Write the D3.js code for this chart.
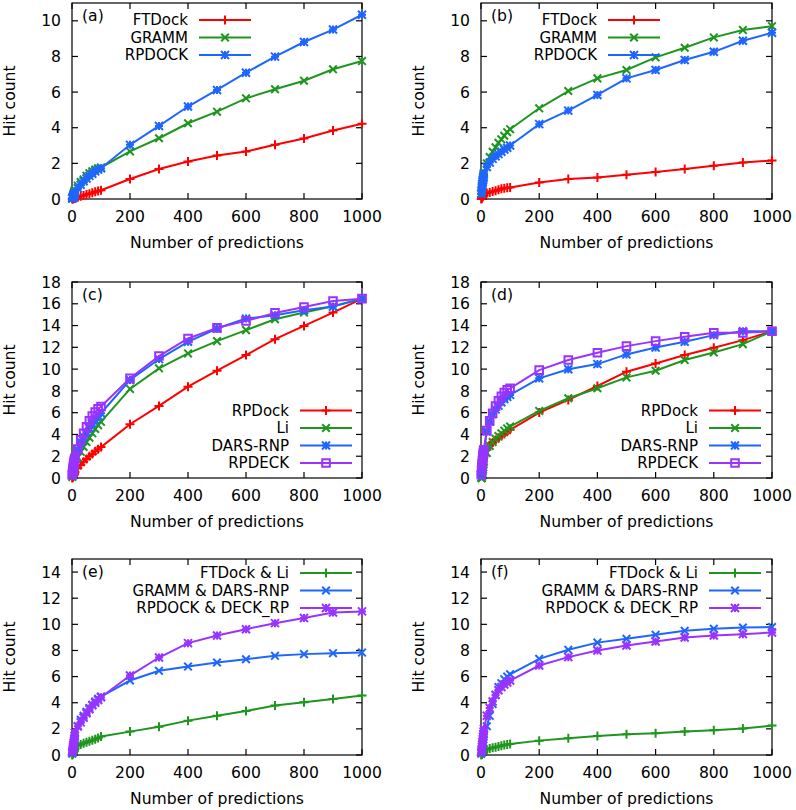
<!DOCTYPE html>
<html><head><meta charset="utf-8">
<script src="https://cdn.jsdelivr.net/npm/d3@7"></script>
<style>body{margin:0;background:#fff}svg{display:block}text{font-family:"DejaVu Sans",sans-serif;fill:#000}</style>
</head><body>
<script>
// ---- data ----
const xValues = [1,2,3,4,5,6,7,8,9,10, 20,30,40,50,60,70,80,90,100, 200,300,400,500,600,700,800,900,1000];
const xTicks = [0,200,400,600,800,1000];

const aFTDock = [0,0.01,0.02,0.02,0.03,0.03,0.04,0.04,0.05,0.05, 0.1,0.15,0.2,0.25,0.3,0.35,0.4,0.45,0.49, 1.12,1.68,2.1,2.44,2.67,3.04,3.4,3.84,4.22];
const aGRAMM  = [0.05,0.1,0.15,0.2,0.25,0.3,0.35,0.4,0.45,0.5, 0.75,0.95,1.1,1.3,1.45,1.55,1.65,1.72,1.77, 2.67,3.41,4.25,4.9,5.65,6.16,6.64,7.28,7.74];
const aRPDOCK = [0.02,0.05,0.08,0.12,0.15,0.2,0.23,0.27,0.3,0.35, 0.6,0.8,1.0,1.15,1.3,1.42,1.55,1.65,1.73, 3.04,4.1,5.19,6.12,7.09,7.99,8.81,9.51,10.34];

const bFTDock = [0,0.03,0.06,0.09,0.12,0.15,0.18,0.2,0.22,0.25, 0.33,0.37,0.42,0.47,0.52,0.57,0.6,0.63,0.65, 0.93,1.12,1.21,1.36,1.51,1.68,1.87,2.05,2.16];
const bGRAMM  = [0.3,0.5,0.7,0.85,1.0,1.1,1.2,1.3,1.4,1.5, 2.0,2.35,2.65,2.9,3.15,3.35,3.55,3.75,3.92, 5.09,6.06,6.77,7.24,7.95,8.49,9.07,9.48,9.7];
const bRPDOCK = [0.3,0.45,0.6,0.75,0.85,0.95,1.05,1.15,1.25,1.4, 1.8,2.05,2.25,2.4,2.52,2.65,2.78,2.88,3.0, 4.2,4.96,5.84,6.77,7.24,7.8,8.26,8.88,9.33];

const cRPDock  = [0,0.05,0.1,0.15,0.2,0.25,0.3,0.4,0.45,0.55, 0.9,1.2,1.5,1.75,2.0,2.2,2.45,2.65,2.84, 4.94,6.62,8.39,9.85,11.29,12.75,13.97,15.19,16.47];
const cLi      = [0.1,0.2,0.3,0.45,0.55,0.7,0.8,0.95,1.05,1.2, 1.9,2.4,2.85,3.3,3.7,4.1,4.5,4.85,5.16, 8.18,10.07,11.44,12.57,13.58,14.58,15.19,15.77,16.47];
const cDARS    = [0.3,0.5,0.7,0.9,1.1,1.25,1.4,1.55,1.7,1.8, 2.6,3.3,3.8,4.2,4.6,5.0,5.35,5.7,5.95, 9.0,10.92,12.51,13.73,14.64,14.95,15.4,15.74,16.47];
const cRPDECK  = [0.3,0.5,0.7,0.9,1.1,1.25,1.4,1.55,1.7,1.8, 2.65,3.5,4.1,4.7,5.25,5.7,6.05,6.35,6.56, 9.15,11.2,12.81,13.79,14.43,15.16,15.71,16.26,16.47];

const dRPDock  = [0.2,0.5,0.8,1.0,1.2,1.4,1.6,1.75,1.9,2.0, 2.6,3.0,3.25,3.5,3.7,3.85,4.05,4.25,4.42, 6.01,7.17,8.45,9.76,10.52,11.29,11.96,12.66,13.48];
const dLi      = [0,0,0,0.2,0.4,0.6,0.8,1.0,1.25,1.5, 2.3,2.95,3.3,3.6,3.85,4.1,4.35,4.55,4.73, 6.16,7.32,8.24,9.24,9.85,10.83,11.53,12.29,13.48];
const dDARS    = [0.3,0.7,1.0,1.3,1.6,1.85,2.1,2.3,2.45,2.6, 4.3,5.2,5.85,6.3,6.65,6.95,7.25,7.45,7.63, 9.15,9.98,10.46,11.35,11.99,12.51,13.12,13.48,13.48];
const dRPDECK  = [0.3,0.7,1.0,1.3,1.6,1.85,2.1,2.3,2.45,2.6, 4.35,5.25,5.95,6.6,7.1,7.5,7.85,8.1,8.24, 9.91,10.83,11.5,12.11,12.57,12.97,13.33,13.33,13.48];

const eFTLi    = [0,0.05,0.1,0.15,0.2,0.25,0.3,0.35,0.42,0.5, 0.7,0.8,0.9,0.98,1.05,1.12,1.2,1.3,1.41, 1.79,2.17,2.63,3.01,3.37,3.78,4.04,4.29,4.55];
const eGRDARS  = [0.1,0.2,0.35,0.5,0.65,0.8,0.95,1.1,1.3,1.5, 2.2,2.7,3.0,3.3,3.6,3.85,4.1,4.3,4.47, 5.7,6.44,6.77,7.08,7.33,7.59,7.72,7.79,7.84];
const eRPDECK  = [0.2,0.35,0.5,0.65,0.8,0.95,1.1,1.25,1.45,1.7, 2.2,2.5,2.85,3.2,3.5,3.8,4.0,4.2,4.42, 6.08,7.46,8.56,9.15,9.63,10.09,10.48,10.91,10.99];

const fFTLi    = [0,0.03,0.06,0.1,0.13,0.16,0.2,0.23,0.27,0.3, 0.42,0.5,0.55,0.6,0.65,0.7,0.76,0.8,0.84, 1.1,1.28,1.46,1.58,1.66,1.79,1.89,2.02,2.25];
const fGRDARS  = [0.1,0.2,0.35,0.5,0.65,0.8,1.0,1.2,1.4,1.6, 2.2,3.0,3.9,4.6,5.2,5.5,5.8,6.0,6.18, 7.36,8.05,8.6,8.89,9.2,9.5,9.66,9.76,9.79];
const fRPDECK  = [0.2,0.4,0.6,0.8,1.0,1.2,1.4,1.6,1.8,2.0, 3.0,3.6,4.1,4.6,4.95,5.2,5.4,5.55,5.7, 6.85,7.49,8.0,8.38,8.69,8.99,9.15,9.25,9.38];

const labels1 = ["FTDock","GRAMM","RPDOCK"];
const labels2 = ["RPDock","Li","DARS-RNP","RPDECK"];
const labels3 = ["FTDock & Li","GRAMM & DARS-RNP","RPDOCK & DECK_RP"];

const RED="#ff0000", GREEN="#1e961e", BLUE="#1f66ff", PURPLE="#9933ff";

const panels = [
  {tag:"(a)", col:0, row:0, ymax:11, yTicks:[0,2,4,6,8,10],
   series:[{name:labels1[0],v:aFTDock,c:RED,m:"plus"},{name:labels1[1],v:aGRAMM,c:GREEN,m:"cross"},{name:labels1[2],v:aRPDOCK,c:BLUE,m:"star"}]},
  {tag:"(b)", col:1, row:0, ymax:11, yTicks:[0,2,4,6,8,10],
   series:[{name:labels1[0],v:bFTDock,c:RED,m:"plus"},{name:labels1[1],v:bGRAMM,c:GREEN,m:"cross"},{name:labels1[2],v:bRPDOCK,c:BLUE,m:"star"}]},
  {tag:"(c)", col:0, row:1, ymax:18, yTicks:[0,2,4,6,8,10,12,14,16,18],
   series:[{name:labels2[0],v:cRPDock,c:RED,m:"plus"},{name:labels2[1],v:cLi,c:GREEN,m:"cross"},{name:labels2[2],v:cDARS,c:BLUE,m:"star"},{name:labels2[3],v:cRPDECK,c:PURPLE,m:"square"}]},
  {tag:"(d)", col:1, row:1, ymax:18, yTicks:[0,2,4,6,8,10,12,14,16,18],
   series:[{name:labels2[0],v:dRPDock,c:RED,m:"plus"},{name:labels2[1],v:dLi,c:GREEN,m:"cross"},{name:labels2[2],v:dDARS,c:BLUE,m:"star"},{name:labels2[3],v:dRPDECK,c:PURPLE,m:"square"}]},
  {tag:"(e)", col:0, row:2, ymax:15, yTicks:[0,2,4,6,8,10,12,14],
   series:[{name:labels3[0],v:eFTLi,c:GREEN,m:"plus"},{name:labels3[1],v:eGRDARS,c:BLUE,m:"cross"},{name:labels3[2],v:eRPDECK,c:PURPLE,m:"star"}]},
  {tag:"(f)", col:1, row:2, ymax:15, yTicks:[0,2,4,6,8,10,12,14],
   series:[{name:labels3[0],v:fFTLi,c:GREEN,m:"plus"},{name:labels3[1],v:fGRDARS,c:BLUE,m:"cross"},{name:labels3[2],v:fRPDECK,c:PURPLE,m:"star"}]},
];

// ---- layout ----
const W=796, H=810;
const colLeft=[72,481], colWidth=[290,291];
const rowTop=[3,282,559], rowBottom=[199,478,755];
const FS=15.6, LFS=15;

const svg = d3.select("body").append("svg").attr("width",W).attr("height",H);

function markerPath(m, s){
  const p = d3.path();
  if(m==="plus"||m==="star"){ p.moveTo(-s,0); p.lineTo(s,0); p.moveTo(0,-s); p.lineTo(0,s); }
  if(m==="cross"||m==="star"){ p.moveTo(-s,-s); p.lineTo(s,s); p.moveTo(-s,s); p.lineTo(s,-s); }
  if(m==="square"){ p.rect(-s,-s,2*s,2*s); }
  return p.toString();
}
const msize = {plus:4.5, cross:3.8, star:4, square:3.8};

panels.forEach(P=>{
  const L=colLeft[P.col], R=L+colWidth[P.col], T=rowTop[P.row], B=rowBottom[P.row];
  const x=d3.scaleLinear().domain([0,1000]).range([L,R]);
  const y=d3.scaleLinear().domain([0,P.ymax]).range([B,T]);
  const g=svg.append("g");
  const tl=6;
  xTicks.forEach(t=>{
    g.append("line").attr("x1",x(t)).attr("x2",x(t)).attr("y1",B).attr("y2",B-tl).attr("stroke","#000").attr("stroke-width",1.2);
    g.append("line").attr("x1",x(t)).attr("x2",x(t)).attr("y1",T).attr("y2",T+tl).attr("stroke","#000").attr("stroke-width",1.2);
    g.append("text").attr("x",x(t)).attr("y",B+23).attr("text-anchor","middle").style("font-size",FS+"px").text(t);
  });
  P.yTicks.forEach(t=>{
    g.append("line").attr("x1",L).attr("x2",L+tl).attr("y1",y(t)).attr("y2",y(t)).attr("stroke","#000").attr("stroke-width",1.2);
    g.append("line").attr("x1",R).attr("x2",R-tl).attr("y1",y(t)).attr("y2",y(t)).attr("stroke","#000").attr("stroke-width",1.2);
    g.append("text").attr("x",L-11).attr("y",y(t)).attr("dy","0.36em").attr("text-anchor","end").style("font-size",FS+"px").text(t);
  });
  g.append("rect").attr("x",L).attr("y",T).attr("width",R-L).attr("height",B-T).attr("fill","none").attr("stroke","#000").attr("stroke-width",1.2);
  g.append("text").attr("x",(L+R)/2).attr("y",B+49).attr("text-anchor","middle").style("font-size",FS+"px").text("Number of predictions");
  g.append("text").attr("transform",`translate(${L-62},${(T+B)/2}) rotate(-90)`).attr("text-anchor","middle").attr("dy","0.35em").style("font-size",FS+"px").text("Hit count");
  g.append("text").attr("x",L+10).attr("y",T+18).style("font-size",FS+"px").text(P.tag);

  const line=d3.line().x((d,i)=>x(xValues[i])).y(d=>y(d));
  P.series.forEach(S=>{
    g.append("path").datum(S.v).attr("d",line).attr("fill","none").attr("stroke",S.c).attr("stroke-width",2);
    g.selectAll(null).data(S.v).enter().append("path")
      .attr("transform",(d,i)=>`translate(${x(xValues[i])},${y(d)})`)
      .attr("d",markerPath(S.m,msize[S.m])).attr("fill","none").attr("stroke",S.c).attr("stroke-width",2);
  });

  const lineStart = P.row===0 ? L+127 : L+228;
  const lineLen = 52;
  let rowY;
  if(P.row===0) rowY=[T+17,T+34.5,T+52];
  else if(P.row===1) rowY=[T+128.5,T+146,T+163.5,T+181];
  else rowY=[T+14,T+31.5,T+49];
  P.series.forEach((S,i)=>{
    const yy=rowY[i];
    g.append("text").attr("x",lineStart-11).attr("y",yy).attr("dy","0.36em").attr("text-anchor","end").style("font-size",LFS+"px").text(S.name);
    g.append("line").attr("x1",lineStart).attr("x2",lineStart+lineLen).attr("y1",yy).attr("y2",yy).attr("stroke",S.c).attr("stroke-width",2);
    g.append("path").attr("transform",`translate(${lineStart+lineLen/2},${yy})`).attr("d",markerPath(S.m,msize[S.m])).attr("fill","none").attr("stroke",S.c).attr("stroke-width",2);
  });
});
</script>
</body></html>
